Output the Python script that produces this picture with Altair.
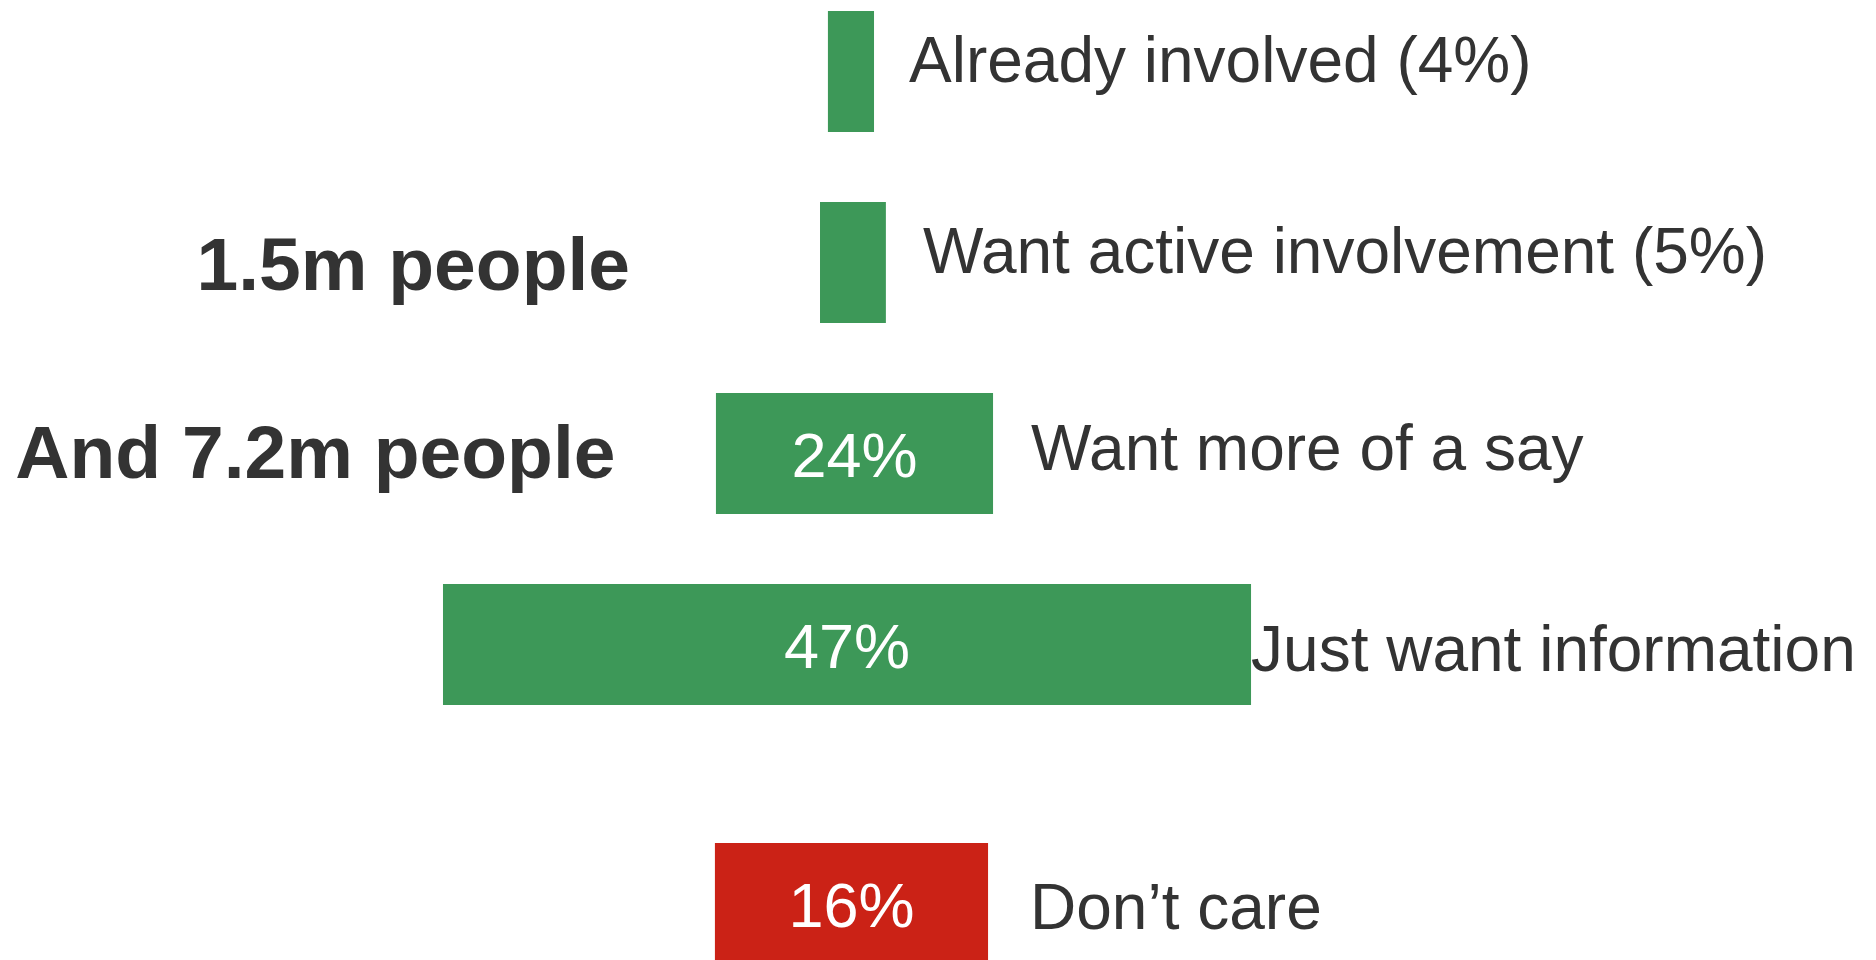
import altair as alt
import pandas as pd

# ---- data ----
categories = ["Already involved (4%)", "Want active involvement (5%)",
              "Want more of a say", "Just want information", "Don\u2019t care"]
shares = [4, 5, 24, 47, 16]
inner_labels = ["", "", "24%", "47%", "16%"]
# drawn bar extents (percentage-point units, centred funnel)
bar_left = [-1.34, -1.80, -7.85, -23.72, -7.91]
bar_right = [1.34, 2.03, 8.26, 23.26, 7.97]
groups = ["interested", "interested", "interested", "interested", "not interested"]
callouts = ["", "1.5m people", "And 7.2m people", "", ""]

df = pd.DataFrame({
    "rank": list(range(len(categories))),
    "label": categories,
    "share": shares,
    "inner": inner_labels,
    "left": bar_left,
    "right": bar_right,
    "group": groups,
    "callout": callouts,
})

# ---- styling ----
GREEN = "#3d9858"
RED = "#cb2216"
TEXT = "#333333"
FONT = "Liberation Sans"
BAR_HALF = 0.3168

xs = alt.Scale(domain=[-49.01, 59.13], nice=False, zero=False)
ys = alt.Scale(domain=[-0.3325, 4.652], nice=False, zero=False, reverse=True)

base = alt.Chart(df).transform_calculate(
    pos="datum.rank + (datum.rank == 4 ? 0.356 : 0)",
    top=f"datum.rank + (datum.rank == 4 ? 0.356 : 0) - {BAR_HALF}",
    bot=f"datum.rank + (datum.rank == 4 ? 0.356 : 0) + {BAR_HALF}",
    mid="(datum.left + datum.right) / 2",
)

bars = base.mark_bar().encode(
    x=alt.X("left:Q", scale=xs, axis=None),
    x2="right:Q",
    y=alt.Y("top:Q", scale=ys, axis=None),
    y2="bot:Q",
    color=alt.Color("group:N", scale=alt.Scale(domain=["interested", "not interested"],
                                               range=[GREEN, RED]), legend=None),
)

inner = base.transform_filter(alt.datum.inner != "").mark_text(
    align="center", baseline="alphabetic", dy=23.5, fontSize=63, font=FONT, color="white"
).encode(
    x=alt.X("mid:Q", scale=xs, axis=None),
    y=alt.Y("pos:Q", scale=ys, axis=None),
    text="inner:N",
)

# per-row offsets of the right-hand labels (dx, dy)
right_offsets = [(35, 10.5), (37, 10.5), (38, 16.5), (0, 26.5), (42, 25.5)]
right_layers = []
for i, (ddx, ddy) in enumerate(right_offsets):
    right_layers.append(
        base.transform_filter(alt.datum.rank == i).mark_text(
            align="left", baseline="alphabetic", dx=ddx, dy=ddy,
            fontSize=64, font=FONT, color=TEXT
        ).encode(
            x=alt.X("right:Q", scale=xs, axis=None),
            y=alt.Y("pos:Q", scale=ys, axis=None),
            text="label:N",
        )
    )

# bold call-outs to the left
callout_offsets = {1: (-190, 27.5), 2: (-100.5, 24.5)}
callout_layers = []
for i, (ddx, ddy) in callout_offsets.items():
    callout_layers.append(
        base.transform_filter(alt.datum.rank == i).mark_text(
            align="right", baseline="alphabetic", dx=ddx, dy=ddy,
            fontSize=75, fontWeight="bold", font=FONT, color=TEXT
        ).encode(
            x=alt.X("left:Q", scale=xs, axis=None),
            y=alt.Y("pos:Q", scale=ys, axis=None),
            text="callout:N",
        )
    )

chart = alt.layer(bars, inner, *right_layers, *callout_layers).properties(
    width=1860, height=952, padding=0, autosize="none", background="white"
).configure_view(strokeWidth=0)

chart.save("out.html", embed_options={"renderer": "svg", "actions": False})
